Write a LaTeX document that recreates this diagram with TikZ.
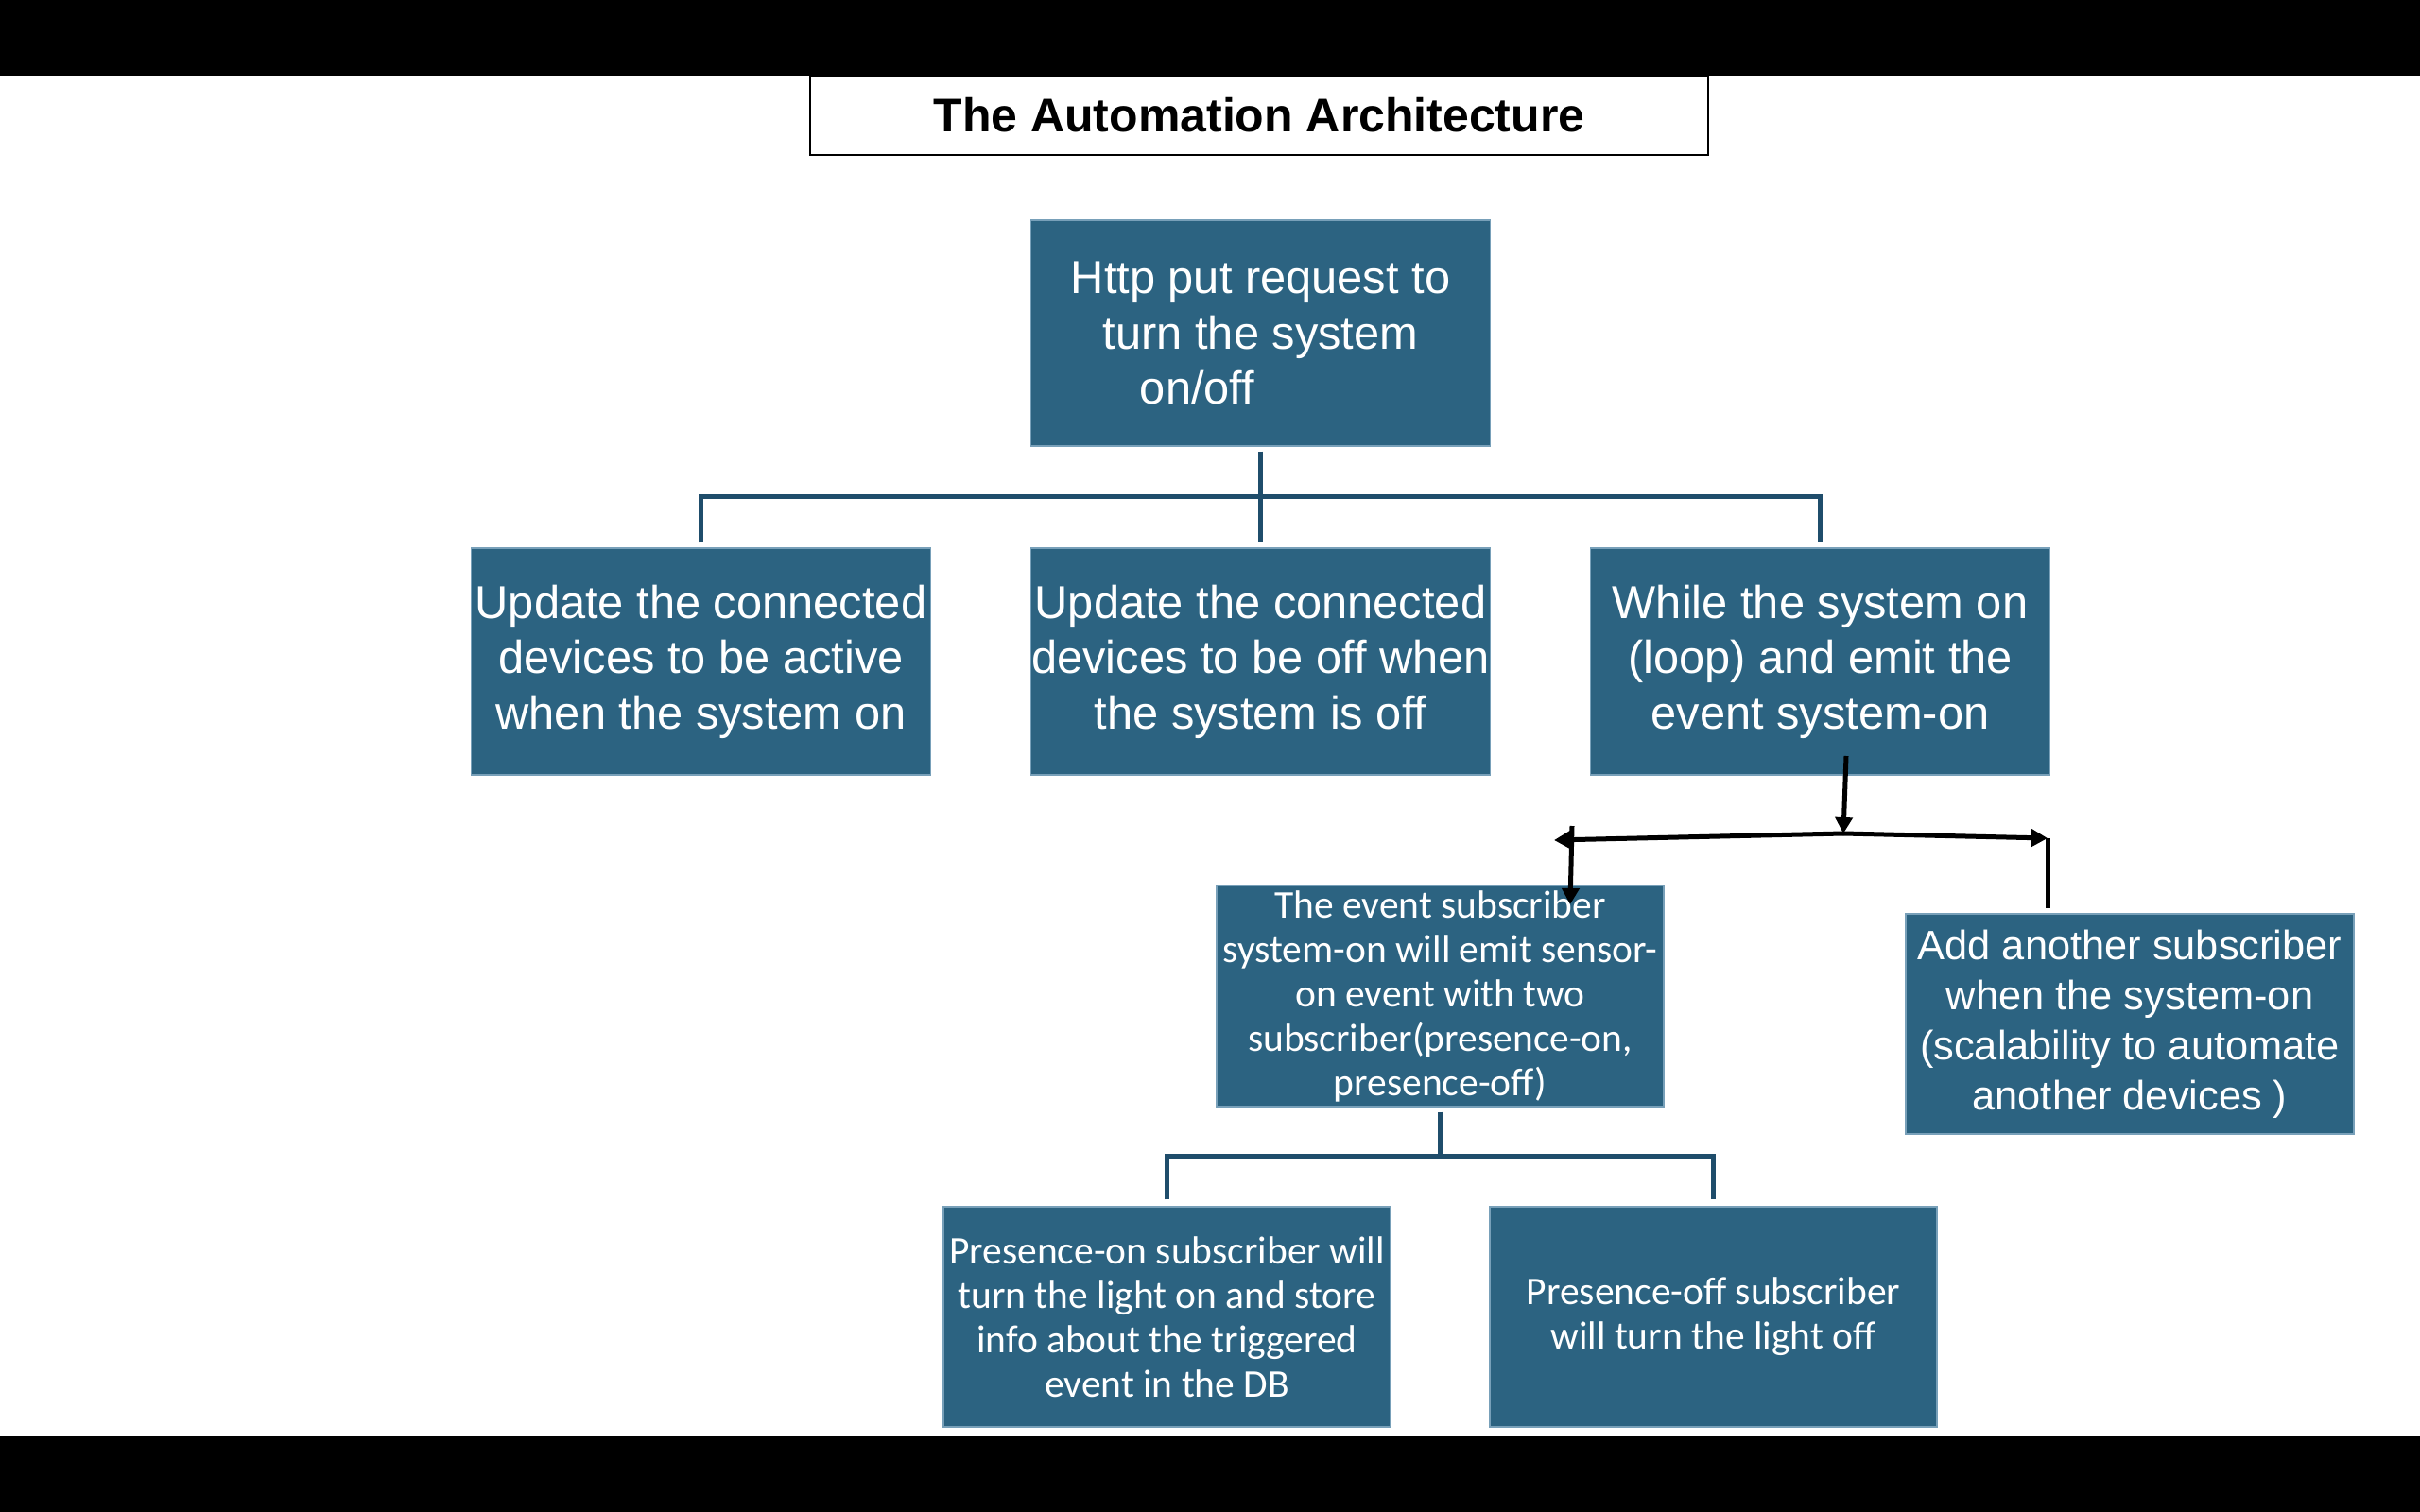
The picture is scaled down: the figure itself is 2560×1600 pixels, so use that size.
\documentclass[tikz,border=0pt]{standalone}
\usepackage{fontspec}
\setmainfont{Liberation Sans}
\newfontfamily\calib{Carlito}
\usetikzlibrary{arrows.meta}
\definecolor{boxfill}{RGB}{44,99,129}
\definecolor{boxedge}{RGB}{120,160,185}
\definecolor{linkc}{RGB}{31,77,107}
\tikzset{
  blk/.style={rectangle, fill=boxfill, draw=boxedge, line width=1.2pt, text=white,
    inner sep=0pt, align=center},
  bigbox/.style={blk, minimum width=486pt, minimum height=240pt,
    font=\fontsize{48.8}{58.5}\selectfont},
  calbox/.style={blk, minimum width=473pt, minimum height=234pt,
    font=\calib\fontsize{41.5}{47}\selectfont},
  link/.style={draw=linkc, line width=5pt},
  blackarrow/.style={draw=black, line width=5pt, -{Triangle[length=17pt,width=18pt]}},
  blackline/.style={draw=black, line width=5pt}
}
\begin{document}
\begin{tikzpicture}[x=1pt,y=-1pt]
\useasboundingbox (0,0) rectangle (2560,1600);
\fill[white] (0,0) rectangle (2560,1600);
\fill[black] (0,0) rectangle (2560,80);
\fill[black] (0,1520) rectangle (2560,1600);

% title
\node[draw=black, line width=2.5pt, minimum width=950pt, minimum height=84pt, inner sep=0pt,
  font=\bfseries\fontsize{50}{60}\selectfont] (title) at (1332,122) {The Automation Architecture};

% top box
\node[bigbox, minimum height=239pt] (top) at (1333.5,352.5)
  {Http put request to\\turn the system\\on/off\hspace*{134pt}};

% row 2
\node[bigbox] (A) at (741.5,700) {Update the connected\\devices to be active\\when the system on};
\node[bigbox] (B) at (1333.5,700) {Update the connected\\devices to be off when\\the system is off};
\node[bigbox] (C) at (1925.5,700) {While the system on\\(loop) and emit the\\event system-on};

% row 3
\node[calbox] (D) at (1523.5,1054)
  {The event subscriber\\system-on will emit sensor-\\on event with two\\subscriber(presence-on,\\presence-off)};
\node[blk, minimum width=474pt, minimum height=233pt,
  font=\fontsize{43.4}{53}\selectfont] (E) at (2253,1083.5)
  {Add another subscriber\\when the system-on\\(scalability to automate\\another devices )};

% row 4
\node[calbox, minimum height=233pt] (F) at (1234.5,1393.5)
  {Presence-on subscriber will\\turn the light on and store\\info about the triggered\\event in the DB};
\node[calbox, minimum height=233pt] (G) at (1812.5,1393.5)
  {Presence-off subscriber\\will turn the light off};

% top tree connectors
\draw[link] ([yshift=-5pt]top.south) -- ([yshift=5pt]B.north);
\draw[link] ([yshift=5pt]A.north) |- ([yshift=54pt]B.north) -| ([yshift=5pt]C.north);

% lower tree connectors
\coordinate (dj) at ([yshift=-52pt]D.south);
\draw[link] ([yshift=-5pt]D.south) -- (dj);
\draw[link] ([yshift=7pt]F.north) |- (dj) -| ([yshift=7pt]G.north);

% hand drawn black arrows
\coordinate (s0) at (1953,800);
\coordinate (jn) at (1950,882);
\coordinate (lt) at (1644,889);
\coordinate (lv0) at (1663,874);
\coordinate (lv1) at (1661,957);
\coordinate (rt) at (2166,887);
\coordinate (rv1) at (2166,961);
\draw[blackarrow] (s0) -- (jn);
\draw[blackarrow] (jn) -- (lt);
\draw[blackarrow] (lv0) -- (lv1);
\draw[blackarrow] (jn) -- (rt);
\draw[blackline] (rt) -- (rv1);
\end{tikzpicture}
\end{document}
